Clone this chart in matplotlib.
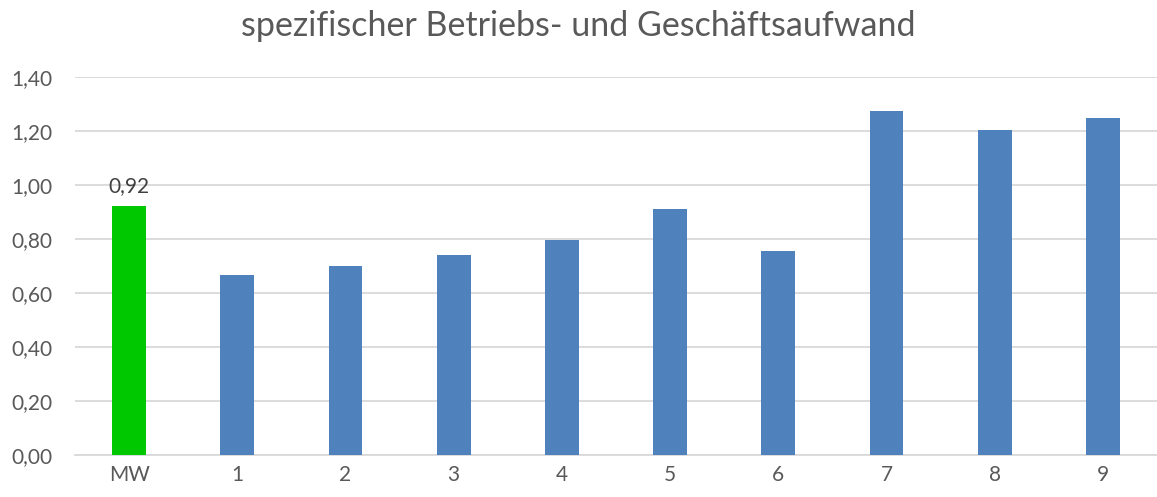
import matplotlib.pyplot as plt

categories = ["MW", "1", "2", "3", "4", "5", "6", "7", "8", "9"]
values = [0.923, 0.668, 0.70, 0.74, 0.798, 0.913, 0.757, 1.276, 1.205, 1.248]
colors = ["#00C800"] + ["#4F81BD"] * 9

plt.rcParams['font.family'] = ['Lato', 'DejaVu Sans']
text_col = "#595959"

fig = plt.figure(figsize=(11.57, 4.97), dpi=100)
ax = fig.add_axes([75/1157, 42/497, 1 - 75/1157, (455 - 77.3)/497])

x = range(len(categories))
ax.bar(x, values, width=0.314, color=colors, zorder=3)

ax.set_xlim(-0.5, 9.5)
ax.set_ylim(0, 1.4)
ax.set_yticks([i * 0.2 for i in range(8)])
ax.set_yticklabels([f"{i * 0.2:.2f}".replace(".", ",") for i in range(8)])
ax.set_xticks(list(x))
ax.set_xticklabels(categories)
ax.tick_params(length=0, labelsize=15, colors=text_col)
ax.tick_params(axis='y', pad=16)
ax.tick_params(axis='x', pad=7)

ax.grid(axis='y', color="#D9D9D9", linewidth=1.3, zorder=0)
for s in ["top", "right", "left"]:
    ax.spines[s].set_visible(False)
ax.spines["bottom"].set_color("#D9D9D9")
ax.spines["bottom"].set_linewidth(1.3)

ax.annotate(f"{values[0]:.2f}".replace(".", ","), (0, values[0]),
            xytext=(0, 7), textcoords="offset points",
            ha="center", va="bottom", fontsize=15, color="#404040")

fig.suptitle("spezifischer Betriebs- und Geschäftsaufwand", y=0.98,
             fontsize=24.5, color=text_col)

fig.savefig("out.png", dpi=100)
